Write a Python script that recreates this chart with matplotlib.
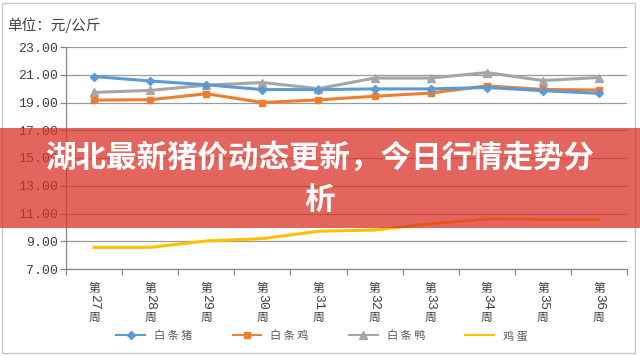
import numpy as np
import matplotlib
matplotlib.use("Agg")
import matplotlib.pyplot as plt
from matplotlib.patches import Rectangle

# data
weeks = ["27", "28", "29", "30", "31", "32", "33", "34", "35", "36"]
pork = [20.87, 20.55, 20.28, 19.93, 19.93, 19.98, 19.98, 20.08, 19.85, 19.66]
chicken = [19.17, 19.2, 19.63, 19.0, 19.19, 19.45, 19.68, 20.2, 19.94, 19.9]
duck = [19.73, 19.87, 20.25, 20.44, 20.0, 20.76, 20.76, 21.16, 20.58, 20.8]
eggs = [8.56, 8.56, 9.02, 9.19, 9.72, 9.81, 10.26, 10.6, 10.58, 10.56]
names = ["白条猪", "白条鸡", "白条鸭", "鸡蛋"]
yticks = [7, 9, 11, 13, 15, 17, 19, 21, 23]

cjk = ["Noto Sans CJK SC", "DejaVu Sans"]
mono = ["Liberation Mono", "Noto Sans CJK SC"]
txt_col = "#404040"
grid_col = "#9a9a9a"

fig = plt.figure(figsize=(6.4, 3.56), dpi=100)
ax = fig.add_axes([66/640, 1 - 269/356, (627-66)/640, (269-47)/356])

x = np.arange(len(weeks))
ax.plot(x, eggs, color="#FFC000", lw=2.2, label=names[3], zorder=3)
ax.plot(x, duck, color="#A5A5A5", lw=2.2, marker="^", ms=5.5, label=names[2], zorder=4)
ax.plot(x, chicken, color="#ED7D31", lw=2.2, marker="s", ms=5, label=names[1], zorder=5)
ax.plot(x, pork, color="#5B9BD5", lw=2.2, marker="D", ms=4.5, label=names[0], zorder=6)

ax.set_xlim(-0.5, len(weeks) - 0.5)
ax.set_ylim(7, 23)
ax.set_yticks(yticks)
ax.set_yticklabels(["%.2f" % v for v in yticks], family=mono, fontsize=9.5, color=txt_col)
ax.yaxis.grid(True, color=grid_col, lw=0.9)
ax.set_axisbelow(True)

# category ticks sit on the boundaries, labels are drawn by hand
ax.set_xticks(np.arange(len(weeks) + 1) - 0.5)
ax.set_xticklabels([])
ax.tick_params(axis="both", direction="out", length=4, width=0.9, color="#888888")
ax.tick_params(axis="y", pad=2)
for s in ["top", "right"]:
    ax.spines[s].set_visible(False)
for s in ["left", "bottom"]:
    ax.spines[s].set_color("#888888")
    ax.spines[s].set_linewidth(0.9)

for i, w in enumerate(weeks):
    kw = dict(xy=(i, 0), xycoords=("data", "axes fraction"), textcoords="offset points",
              ha="center", va="top", color=txt_col, annotation_clip=False)
    ax.annotate("第", xytext=(0, -9.2), family=cjk, fontsize=8.5, **kw)
    ax.annotate(w, xytext=(0, -18.2), family=mono, fontsize=9.5, rotation=-90, **kw)
    ax.annotate("周", xytext=(0, -30.5), family=cjk, fontsize=8.5, **kw)

fig.text(7/640, 1 - 25/356, "单位：元/公斤", family=cjk, fontsize=10.5, color=txt_col,
         va="center", ha="left")

h, l = ax.get_legend_handles_labels()
order = [3, 2, 1, 0]
leg = fig.legend([h[k] for k in order], [" ".join(l[k]) for k in order],
                 loc="center", bbox_to_anchor=(0.503, 1 - 336/356), ncol=4, frameon=False,
                 prop={"family": cjk, "size": 8}, handlelength=2.6, columnspacing=3.6,
                 handletextpad=0.8, labelcolor="#595959")
for ln in leg.get_lines():
    ln.set_linewidth(1.5)

# outer chart border
fig.patches.append(Rectangle((2/640, 3/356), 633/640, 350/356, transform=fig.transFigure,
                             fill=False, ec="#c8c8c8", lw=1.0))

# red title band across the figure
fig.patches.append(Rectangle((0, 1 - 228/356), 1, 100/356, transform=fig.transFigure,
                             fc=(220/255, 50/255, 40/255), alpha=0.75, ec="none", zorder=10))
fig.text(0.5, 1 - 158/356, "湖北最新猪价动态更新，今日行情走势分", family=cjk, fontsize=22,
         fontweight="bold", color="white", ha="center", va="center", zorder=11)
fig.text(0.5, 1 - 200/356, "析", family=cjk, fontsize=22,
         fontweight="bold", color="white", ha="center", va="center", zorder=11)

fig.savefig("out.png", dpi=100)
